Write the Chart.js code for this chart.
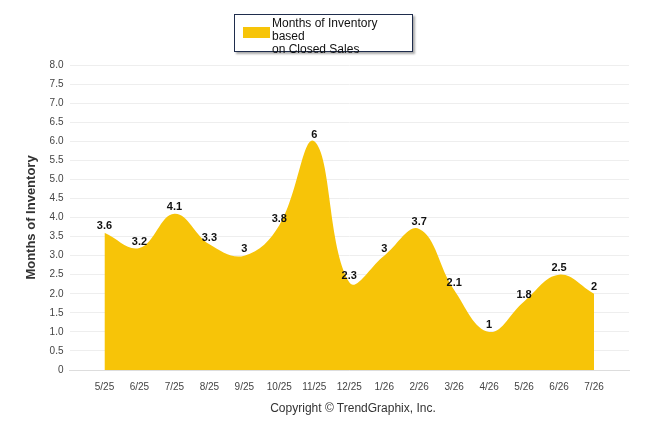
<!DOCTYPE html><html><head><script src="https://cdn.jsdelivr.net/npm/chart.js@4"></script>
<style>body{margin:0;background:#fff}#w{position:relative;width:646px;height:434px}
#lg{position:absolute;left:234px;top:14px;width:177px;height:36px;border:1px solid #1f2d4d;box-shadow:2px 2px 2px #aaa;font:12px "Liberation Sans",Arial;color:#111;background:#fff}
#lg span{position:absolute;left:8px;top:12px;width:27px;height:11px;background:#f7c408}
#lg div{position:absolute;left:37px;top:2px;line-height:13px}
#cp{position:absolute;top:401px;left:0;width:646px;text-align:center;padding-left:60px;box-sizing:border-box;font:12px "Liberation Sans",Arial;color:#333}</style></head>
<body><div id="w"><canvas id="c" width="646" height="434"></canvas>
<div id="lg"><span></span><div>Months of Inventory based<br>on Closed Sales</div></div>
<div id="cp">Copyright © TrendGraphix, Inc.</div></div>
<script>
const categories=['','5/25','6/25','7/25','8/25','9/25','10/25','11/25','12/25','1/26','2/26','3/26','4/26','5/26','6/26','7/26',''];
const values=[null,3.6,3.2,4.1,3.3,3,3.8,6,2.3,3,3.7,2.1,1,1.8,2.5,2,null];
const lbl={id:'lbl',afterDatasetsDraw(ch){const m=ch.getDatasetMeta(0),x=ch.ctx;x.save();x.font='bold 11px "Liberation Sans",Arial';x.fillStyle='#111';x.textAlign='center';x.textBaseline='bottom';
m.data.forEach((p,i)=>{if(values[i]!=null)x.fillText(values[i],p.x,p.y-1)});x.restore();}};
new Chart(document.getElementById('c'),{type:'line',data:{labels:categories,datasets:[{data:values,fill:'origin',backgroundColor:'#f7c408',borderWidth:0,pointRadius:0,tension:0.4}]},
options:{responsive:false,animation:false,layout:{padding:{top:65,right:17,bottom:38,left:20}},plugins:{legend:{display:false},tooltip:{enabled:false}},
scales:{x:{offset:false,grid:{display:false,drawTicks:true},border:{color:'#ddd'},ticks:{autoSkip:false,maxRotation:0,font:{size:10,family:'"Liberation Sans",Arial'},color:'#444'}},
y:{min:0,max:8,ticks:{stepSize:0.5,font:{size:10,family:'"Liberation Sans",Arial'},color:'#444',padding:6},grid:{color:'#eee',drawTicks:false},border:{display:false},
title:{display:true,text:'Months of Inventory',font:{size:13,weight:'bold',family:'"Liberation Sans",Arial'},color:'#333'}}}},plugins:[lbl]});
</script></body></html>
